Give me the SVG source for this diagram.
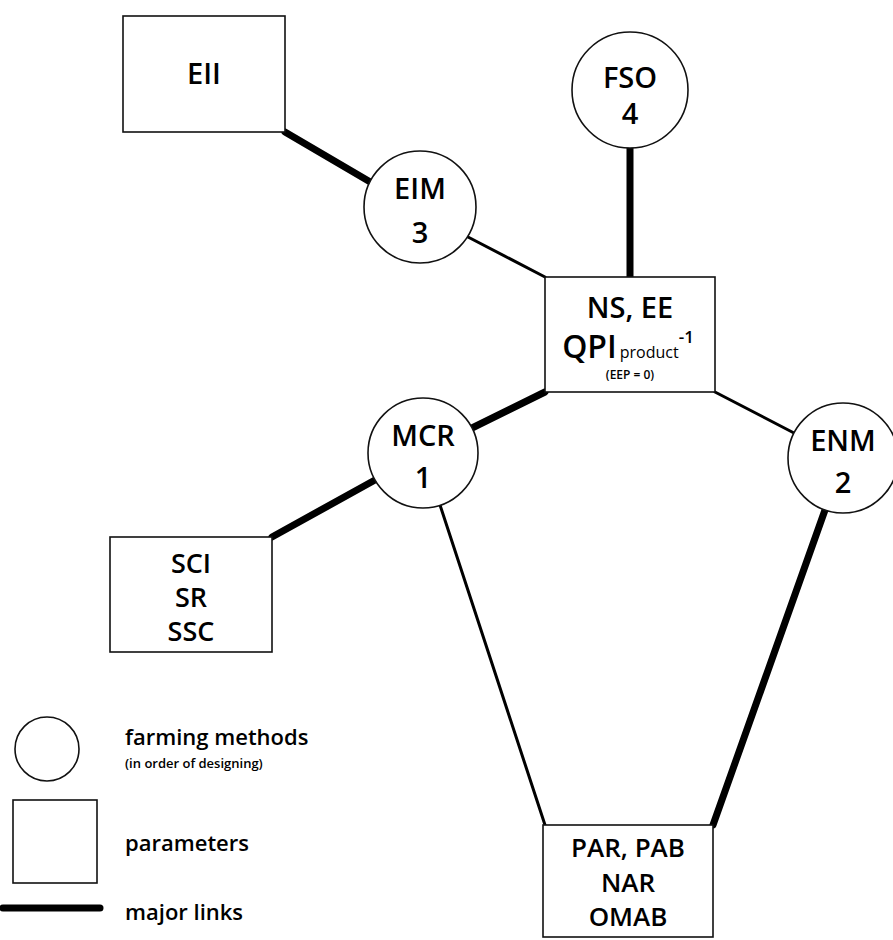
<svg xmlns="http://www.w3.org/2000/svg" width="893" height="940" viewBox="0 0 893 940">
  <style>
    .node { fill: #fff; stroke: #111; stroke-width: 1.6; }
    .lbl { font-family: "Open Sans", "Noto Sans", sans-serif; font-weight: 600; fill: #000; text-anchor: middle; }
    .big { font-size: 29px; }
    .mid { font-size: 26px; }
    .thin { stroke: #000; stroke-width: 3; fill: none; stroke-linecap: round; }
    .thick { stroke: #000; stroke-width: 7; fill: none; stroke-linecap: round; }
    .leg { font-family: "Open Sans", "Noto Sans", sans-serif; font-weight: 600; fill: #000; }
  </style>
  <rect width="893" height="940" fill="#fff"/>

  <!-- connectors -->
  <g id="links">
    <line class="thick" x1="285" y1="132" x2="372" y2="183"/>
    <line class="thin" x1="468" y1="237" x2="545" y2="277"/>
    <line class="thick" x1="630" y1="148" x2="630" y2="277"/>
    <line class="thick" x1="545" y1="392" x2="472" y2="428"/>
    <line class="thin" x1="715" y1="392" x2="794" y2="433"/>
    <line class="thick" x1="272" y1="537" x2="375" y2="480"/>
    <line class="thin" x1="440" y1="505" x2="545" y2="825"/>
    <line class="thick" x1="825" y1="510" x2="713" y2="825"/>
  </g>

  <g id="EII">
    <rect class="node" x="123" y="16" width="162" height="116"/>
    <text class="lbl big" x="204" y="84">EII</text>
  </g>

  <g id="EIM">
    <circle class="node" cx="420" cy="207" r="56"/>
    <text class="lbl big" x="420" y="199">EIM</text>
    <text class="lbl big" x="420" y="243">3</text>
  </g>

  <g id="FSO">
    <circle class="node" cx="630" cy="90" r="58"/>
    <text class="lbl big" x="630" y="88">FSO</text>
    <text class="lbl big" x="630" y="124">4</text>
  </g>

  <g id="NS">
    <rect class="node" x="545" y="277" width="170" height="115"/>
    <text class="lbl big" x="630" y="318">NS, EE</text>
    <text class="lbl" x="628" y="358"><tspan font-size="32px">QPI</tspan><tspan font-size="16px" font-weight="400" dx="3">product</tspan><tspan font-size="17px" dy="-15">-1</tspan></text>
    <text class="lbl" x="630" y="379" font-size="12px" font-weight="400">(EEP = 0)</text>
  </g>

  <g id="MCR">
    <circle class="node" cx="423" cy="453" r="55"/>
    <text class="lbl big" x="423" y="446">MCR</text>
    <text class="lbl big" x="423" y="488">1</text>
  </g>

  <g id="ENM">
    <circle class="node" cx="843" cy="458" r="55"/>
    <text class="lbl big" x="843" y="451">ENM</text>
    <text class="lbl big" x="843" y="493">2</text>
  </g>

  <g id="SCI">
    <rect class="node" x="110" y="537" width="162" height="115"/>
    <text class="lbl" x="191" y="573" font-size="27px">SCI</text>
    <text class="lbl" x="191" y="607" font-size="27px">SR</text>
    <text class="lbl" x="191" y="641" font-size="27px">SSC</text>
  </g>

  <g id="PAR">
    <rect class="node" x="543" y="825" width="170" height="112"/>
    <text class="lbl mid" x="628" y="857">PAR, PAB</text>
    <text class="lbl mid" x="628" y="892">NAR</text>
    <text class="lbl mid" x="628" y="926">OMAB</text>
  </g>

  <!-- key -->
  <g id="legend">
    <circle class="node" cx="47" cy="749" r="32"/>
    <rect class="node" x="13" y="800" width="84" height="83"/>
    <line x1="3" y1="908" x2="100" y2="908" stroke="#000" stroke-width="7" stroke-linecap="round"/>
    <text class="leg" x="125" y="745" font-size="22px">farming methods</text>
    <text class="leg" x="125" y="768" font-size="13px">(in order of designing)</text>
    <text class="leg" x="125" y="851" font-size="22px">parameters</text>
    <text class="leg" x="125" y="920" font-size="22px">major links</text>
  </g>
</svg>
